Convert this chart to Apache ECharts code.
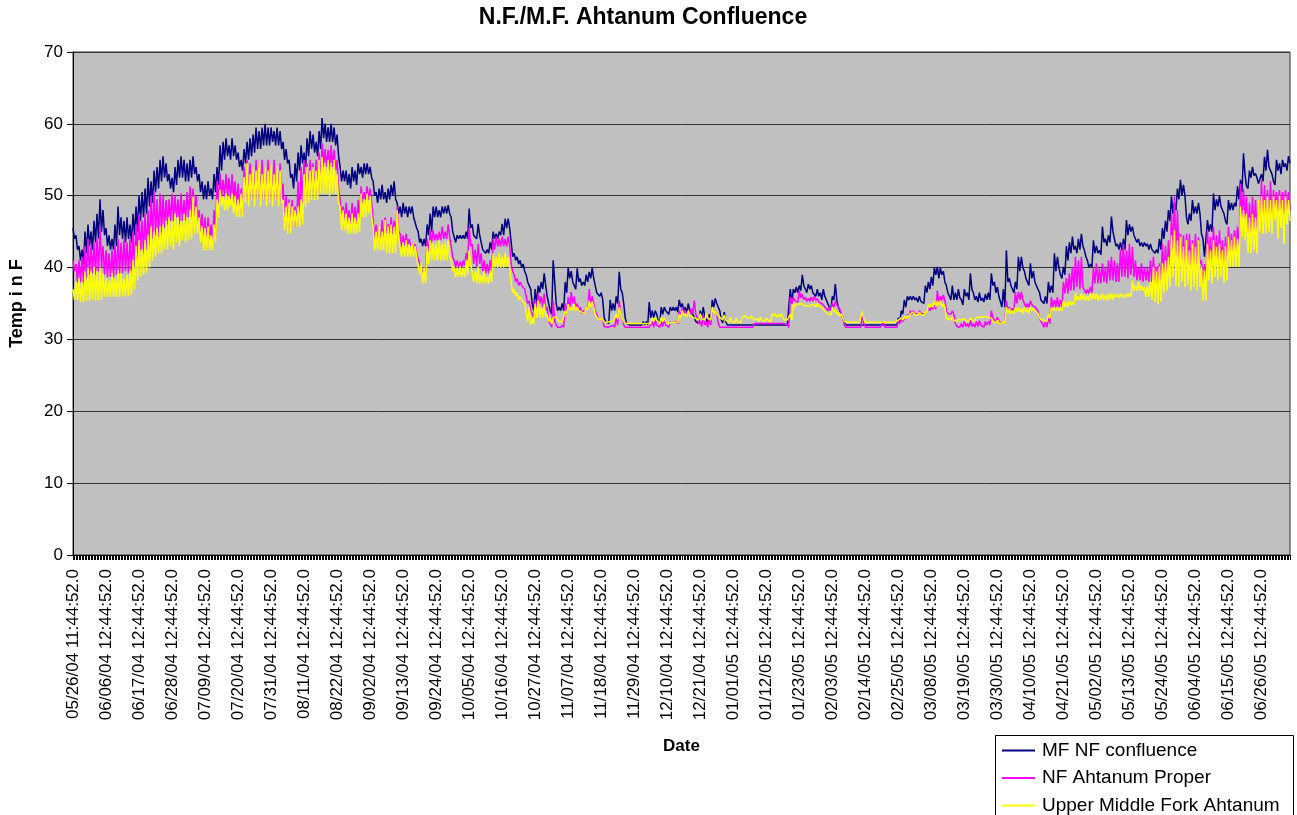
<!DOCTYPE html>
<html>
<head>
<meta charset="utf-8">
<title>N.F./M.F. Ahtanum Confluence</title>
<script src="https://cdn.jsdelivr.net/npm/echarts@6/dist/echarts.min.js"></script>
<style>
  html, body { margin: 0; padding: 0; background: #fff; }
  #main { width: 1297px; height: 815px; }
</style>
</head>
<body>
<div id="main"></div>
<script type="text/javascript">
// daily readings, one high and one low per day, starting 05/26/04
var startDate = [2004, 4, 26];
var seriesNames = ['MF NF confluence', 'NF Ahtanum Proper', 'Upper Middle Fork Ahtanum'];

// MF NF confluence
var mfHi = [
45.5,44.5,43,42.5,45,46,45,46.5,47.5,49.5,
48,45.5,44.5,44,46,48.5,47,46.5,47,46,
47.5,48.5,50,50.5,51,52.5,52,53.5,54,55,
55.5,54.5,53,52.5,54,55,55.5,55,54.5,55,
55.5,54,53,52,51.5,52,51,53,54,57,
57.5,58,57,58,57,56,55,56.5,57.5,58,
58.5,59.5,59,59.5,60,59.5,59.5,59,59.5,59,
57.5,56.5,55,53,54.5,56,57,56,58,59,
58.5,57.5,59,60.8,60,59.5,60,59.5,58.5,54,
53.5,53.5,53,54,53.5,54.5,54,54.5,54.5,54,
52,50.5,51,51.5,50.5,51,51.5,52,49,48.5,
49,48.5,48.5,48.5,47,45,44,44,46,47.5,
48.5,48.5,48,48.5,48.5,48.7,47,45,44.5,44.5,
44.5,45,48.2,46,44.7,46.1,43.5,42.5,42.5,43.5,
45,44.7,45,46.1,46.8,46.8,43.5,42,41.5,41,
40.5,39,38,35,37,37.5,38,39.2,36,34,
41,35,34.5,35,38,40,39.5,38,39.9,38.5,
38,39,39.4,40,37.5,36.5,36.5,33,32.7,35.5,
35,36,39.4,36.5,33,32.2,32.2,32,32,32.2,
32.5,32.5,35.2,34,34,32.5,34.5,34.5,33.8,34.5,
34.5,34.5,35.5,35,34.5,35,34,33.1,32.5,34,
34.5,33,33.5,35.5,35.7,35,32.7,33.8,32,32,
32,32,32,32,32,32,32,32,32,32,
32,32,32,32,32,32,32,32,32,37,
37,37.3,37.5,39,37.5,37.7,37.5,36.5,37,36.5,
37,35.5,34.5,36,37.7,34.5,33.5,32.5,32,32,
32,32,32,32,32,32,32,32,32,32,
32,32,32,32,32,33,34,35.5,36,36,
36,35.8,36,35.5,37.5,38,38.7,40,40.1,40,
39.5,37.5,36,37.5,36.5,37,35.5,37,36.5,39.2,
36.5,36,36.5,35.8,36.3,36.5,39.2,38,37.3,36,
37,42.4,38.5,37.5,38,41.5,41.5,39.5,38.5,40.6,
39.5,38,36.6,35.5,36,38,37.5,42,41.5,39,
40.1,43,43.5,44.3,43,44,44.7,42.4,41,40.5,
43.8,43,42.4,45.7,44,44.5,47.1,44,43.3,43.5,
44,46.6,46,45.7,44.3,44,43.5,43.5,43.3,43.3,
42.5,42.5,44,45.5,46.5,48,49.9,49,51,52.2,
51.5,47,47.5,49.4,48.5,49,44.7,41.5,46.6,46,
50.3,49.5,50,48.5,46.5,49.4,49,49,51.3,52.2,
55.9,51.3,53.5,54,53.1,51.7,53,55.4,56.4,54,
52,55,54.5,55,54.5,55.5
];
var mfLo = [
44,42.5,41,40.5,42,43,42.5,43.5,44,45,
44.5,43,42.5,42.5,43,44.5,44,43.5,44,43.5,
44.5,45,46.5,47,47.5,48.5,49,50.5,51,52,
52.5,52,51,50.5,51.5,52.5,52.5,52,52,52.5,
53,52,50.5,49.5,49.5,50,49.5,50.5,51.5,53.5,
55,55.5,55,55.5,55,54,53.5,54.5,55,55.5,
56,56.5,56.5,57,57,57,57.5,57,57,56.5,
55,54.5,52.5,51,52,53.5,54.5,54,55.5,56.5,
56,55.5,56.5,58,57.5,57.5,57.5,57,55.5,52,
52,51.5,51,52,51.5,53,52.5,53,53,52.5,
50,49,49.5,49.5,49,49.5,50,49.5,47.5,47,
47.5,47,47.5,47,45.5,43.5,43,43,44.5,45,
47,47,47,47.5,47.5,47.5,45,43.5,44,44,
44,44,45.5,44.5,44,44.5,42.5,42,42,42.5,
44,44,44.5,44.5,45.5,45.5,41.5,41,40.5,40,
39.5,38,37,34,35,36.5,37,37.5,35,33.5,
38,34,34,34,36.5,38.5,38,37,38,37.5,
37.5,38,38.5,38.5,36.5,36,35.5,32.5,32.2,34,
34,35,37,35,32.2,32,32,32,32,32,
32,32,33,33,33.5,32.2,33.5,34,33.5,34,
34,33.8,34.5,34,33.6,34,33.5,32.5,32.2,33,
33.2,32.3,32.5,34.5,35,34,32.3,32.5,32,32,
32,32,32,32,32,32,32,32,32,32,
32,32,32,32,32,32,32,32,32,35,
36.5,36.5,36.8,37.5,36.5,37,36.5,36,36,35.5,
36,35,34,35.5,35.5,34,33,32,32,32,
32,32,32,32,32,32,32,32,32,32,
32,32,32,32,32,32.5,33.5,34.5,35.5,35.5,
35.5,35.2,35.3,35,36.5,37,37.5,39,38.5,39,
38,36.5,35.5,35.5,35.5,35.8,34.8,36,35.5,37,
35.5,35.2,35.4,35.2,35.5,35.5,37.5,36.5,36,34.5,
34.5,38,37.5,36.5,37,39.5,40,38.5,37.5,38.5,
38,37,35.5,35,35,36.5,36.5,39.5,40,38.5,
39,41,42,42.5,42,42.5,43,41.5,40,40,
42,42,41.8,43.5,43,43.5,45,43,42.5,42.4,
42.5,44.5,45,44.5,43.5,43,42.9,43,42.5,42.5,
42,42,42.5,44,45,46.5,47.5,48,49.5,50,
50,46,46.5,47.5,47.5,47.5,44,41.5,45,45,
48,48.5,48.5,47.5,46,48,48,48.5,49.5,50.5,
53,51,52.5,52.8,52.5,51.5,52,53.5,54,53,
51.5,53.5,53,54,53.5,54.5
];

// NF Ahtanum Proper
var nfHi = [
41,40.5,41,41.5,43,44,43,43.5,44,45.7,
43,42.4,42,42.4,43,44,43.5,44,43.5,44,
45,46,47.5,46.5,47.5,48,50,50.8,49.5,50.3,
50,49.4,49.5,50.3,50,49.5,50.3,49.4,50.5,51.3,
51,50,48,47.5,47,47,46,48,52,53.1,
52.2,53,52.5,53,52,51.7,51,54,55,54.5,
54,55,54.5,55,54,55,54.5,55,54,54.5,
51.7,50,49.5,49.4,48.5,52,54,55,54.5,55,
54.5,55,56,57.3,56.5,56.4,57,56.4,55,49.4,
48.5,49,48,49,48.5,49.4,51.3,50.5,51.3,51,
46.6,46,45.5,46.6,47,46,47,46.5,48.5,44.7,
44.5,44.7,44,43.3,43.3,42,40,40,44,45.2,
45.2,44.7,45,45.7,45,46,43,41,41,40.8,
41,42,45.7,43.3,42.5,43.3,42,41,40.5,41,
44,44.3,44,44.3,44,44.3,40.5,39,38.5,38,
37.5,36,35.4,34,35.5,36.4,36,36.4,34.5,32.2,
35.4,32,31.7,32,35,35.9,36.6,36,35,34.5,
34,34.5,37,36,34,33,33,31.8,31.7,31.8,
32,33,35.4,33,31.7,31.7,31.7,31.7,31.7,31.7,
31.7,31.7,31.7,32.5,32.7,32,32.5,32.7,32.2,32.4,
32.4,32.5,34,34.5,34,33.8,34.3,35.4,33,32.5,
33.5,32.5,33,34.5,34,32.2,31.8,31.8,31.7,31.7,
31.7,31.7,31.7,31.7,31.7,31.7,31.7,32.2,32.2,32.2,
32.2,32.2,32.2,32.2,32.2,32.2,32.2,32.2,32,35.9,
35.9,35.5,36.8,36.3,35.9,35.7,35.9,36,35.7,35.4,
35,34.5,34.5,35,35.4,34.8,34,32,31.7,31.7,
31.7,31.7,31.7,33.6,31.7,31.7,31.7,31.7,31.7,31.7,
32.4,31.7,31.7,31.7,31.7,32.5,32.9,33.1,33.5,34,
34,33.8,34,33.8,34,34.5,34.5,34.8,36.8,36,
36.2,34,33.8,34,32.2,32,32.2,32.5,32.2,32.7,
32.2,32.5,32.6,32.2,32.5,32.5,34,33,33.1,32.7,
32.5,35.4,34.5,34.3,36.6,36.6,36.6,35.4,35,35.4,
35,34.5,33.1,32.2,32.5,33.1,35.9,35.5,35.9,35.5,
38,38.5,39.2,40,41.5,41,41.5,37.3,37,37.3,
40,40.6,39.9,40.6,40.1,41,41.5,41,40.6,42.5,
43.3,42.4,43.3,42.9,41,40.1,40.6,40.1,40,41,
41.5,40.1,40.6,43.3,43,43.8,47.5,49.9,48,44.7,
44.5,44.7,44.7,43.8,44.7,44.2,41,40.5,45.2,44.3,
45.7,44.5,45.2,43.8,44.3,45.7,44.7,45.2,45.7,51.7,
51,49.9,49,49.9,49.4,49,52.2,51.5,50.8,52,
50.8,50.5,50.8,50.5,50.8,50.5
];
var nfLo = [
39.5,38,38,37.8,38.5,39,39.2,39,39.5,40,
39,38.7,38.7,38.7,39,39.2,39.2,39.5,39.2,39.5,
40,41,42.4,42,42.4,43,44,44.5,44.2,44.7,
45.5,46,46.5,46.5,47,46,46.5,46.5,47,47,
47,46.5,45,44,43.5,43.3,43.3,44,49,49.9,
49.9,50,49.5,49,48.5,47.5,47.5,49.4,49.4,49.4,
49.5,49.4,49.5,49.4,50,49,49.4,49.5,49.4,49,
46,45.2,45.5,45.7,45.7,46.5,49,49.4,50,50.3,
50,50.3,51,54,54,53.5,54,53.5,51,47.5,
46.6,46,45.7,46,46,46.6,49,49.4,49.4,49,
44,43.3,43.3,43.5,44.7,44.7,44.7,44.7,45,42.9,
43,42.9,43,42,42,40.5,39.2,39.2,41.5,43.5,
43.8,43.8,43.8,44,44,44.3,41.5,40.1,40.1,40.1,
40.3,41,43,40.5,40.1,40.5,39.5,39.2,39.2,39.5,
42.5,42.9,42.9,43,42.9,43,39.5,38,37.5,37.5,
37,35,34,33.1,34,35,34.5,34,32.5,31.7,
32.5,31.7,31.7,31.7,33.5,34,35,34.5,34,33.6,
33.6,34,35,35,33.5,32.7,32.7,31.7,31.7,31.7,
31.7,32,33.5,32,31.7,31.7,31.7,31.7,31.7,31.7,
31.7,31.7,31.7,31.7,32,31.7,31.8,32,31.7,32.2,
32.2,32.2,33,33.6,33.5,33.5,33.6,33.5,32.2,31.8,
32,31.7,32,33.6,33.6,31.7,31.7,31.7,31.7,31.7,
31.7,31.7,31.7,31.7,31.7,31.7,31.7,32.2,32.2,32.2,
32.2,32.2,32.2,32.2,32.2,32.2,32.2,32.2,31.7,35,
35.4,35.2,35.8,35.5,35.3,35.3,35.3,35.4,35.2,35,
34.5,34,34,34.5,34.8,34.2,33,31.7,31.7,31.7,
31.7,31.7,31.7,32.2,31.7,31.7,31.7,31.7,31.7,31.7,
31.7,31.7,31.7,31.7,31.7,32.2,32.5,32.7,33.1,33.5,
33.6,33.5,33.6,33.5,33.6,34,34.2,34.2,35,35.4,
35.4,33.6,33.5,33.5,31.8,31.7,31.7,31.8,31.7,31.8,
31.7,31.8,32,31.7,32,32,33,32.5,32.5,32.2,
32.2,34,34,34,35,35.5,35.5,34.5,34.5,34.8,
34.5,34,32.5,31.7,31.7,32.2,34.5,34.5,34.5,34.5,
36.4,36.4,36.8,36.8,37.3,37,37.3,36.4,36.4,36.5,
37.8,37.8,37.8,38,37.8,38.2,38.2,38,38,38.7,
38.7,38.5,39,38.7,38.2,38.2,38,38.2,38,38,
37.8,37.8,38.2,39.2,39.2,39.2,42.4,41.5,41,40.1,
40.1,40.1,40.1,40.1,40.1,40.5,37.8,37.8,41,40.5,
41.5,41,41,40.1,41,42,42,42,42.4,47,
47,44.7,44.7,45,44.7,44.7,45.7,45.7,46,45.7,
48,48,48,47.5,48,48
];

// Upper Middle Fork Ahtanum
var umHi = [
37,38,38.5,38,39.5,40,39.5,40.1,39.5,40,
39.2,38.5,38.2,39.2,38.5,39.6,39.2,38.5,39,39.6,
41,43,43.8,42.5,43.8,44.5,45.7,45,45.5,45.7,
46,46.5,47,46.5,47.5,47,46.5,47.5,47,48,
49.9,48.5,47,45.7,45.5,45.7,44.5,46,49.5,50.8,
49.9,50.3,50,50.3,50,49.5,50.3,52.6,54.5,53,
54,53.5,54.5,53,54,53.5,54.5,53,54,53.5,
49.4,48.5,49,48.5,48,48.5,49.5,53,54,53.5,
54,53.5,55,55.4,54.5,55,54.5,55,53,48.5,
48,47.5,47,47.5,47,47.5,50.3,49.5,50.3,50,
45.7,45,45.7,45,46.6,45.7,46,45.7,48,43.8,
43.5,43.8,43.3,43.3,43,41.5,40.6,40,43,43.8,
43.5,43.3,43.8,43.3,43.5,43.8,41,40.1,40,40.1,
40,41,42.4,40.5,39.5,40.1,39,39.5,38.7,39.5,
42,41.5,42,41.5,42,41.5,37.8,37,36.5,36,
35.5,34.9,34.5,33,35,35.4,34.5,35,33.5,33.1,
33.1,33.1,32.5,32.5,34,34.9,34.5,34.9,34.5,34.2,
34,34.5,35.4,35.2,33.5,33.1,33,32.4,32.4,32.5,
32.5,33.5,34.5,33,32.2,32.2,32.2,32.2,32.2,32.2,
32.2,32.2,32.2,33,33.1,32.5,33.1,33,32.7,32.4,
32.4,32.5,33.5,34,33.6,34,33.5,33.3,33.1,33.6,
32.9,33.6,33.1,34.5,34,33.6,33.1,33.4,32.9,33.1,
32.5,32.9,32.5,33.1,33.3,33.1,33.3,32.7,32.9,33.1,
32.7,33,32.7,33.6,33.6,33.4,33.6,32.7,32.7,33.5,
34.9,34.9,34.9,35,34.9,34.9,34.9,34.8,35,34.8,
34.5,34,33.8,34.5,34.2,33.8,33.6,32.5,32.4,32.4,
32.4,32.4,32.4,33.9,32.4,32.4,32.4,32.4,32.4,32.4,
32.4,32.4,32.4,32.4,32.4,32.7,33,33.2,33.4,33.6,
33.8,33.6,33.8,33.6,34,34.9,35,35.4,35.4,35.4,
35,33.1,33,33.1,32.7,32.8,32.7,32.9,32.7,33,
32.8,33.1,33.1,33.1,33.2,33.1,32.9,32.7,32.7,32.5,
32.5,34.5,34.3,34,34.5,34.5,34.3,34.5,34.3,34.5,
34.3,34,33.1,32.9,32.7,33.5,34.5,34.3,34.5,34.3,
35.4,35.2,35.4,35.2,36.4,36,36.4,36.2,36,36.4,
36.4,36.4,36.2,36.4,36.2,36.4,36.4,36.4,36.2,36.4,
36.2,36.4,36.4,38.2,37.5,38,37.5,37.3,37.5,38,
40.1,39.5,40.1,40.6,41,41.5,44.5,45.2,43.8,44.3,
42.9,43.8,42.4,43.3,42.9,43.8,40.1,39.6,43.3,42.4,
43.8,42.9,43.3,42.4,43,44.3,43.8,44.3,44,48.5,
48,47.5,47,47.5,47,49.4,49.9,49.4,49.9,49.4,
49.9,49.4,50,49.4,49.9,49.4
];
var umLo = [
35.5,35.5,35.2,35.2,35.4,35.4,35.5,35.4,35.4,35.5,
35.9,35.9,35.9,35.9,35.9,35.9,36,36,36,36.2,
37,38.2,38.7,39,39.2,40,41,41.5,42,42,
42.5,42.5,43,42.5,43.5,43,43.8,43.5,43.8,44,
44.7,44.7,43.5,42.4,42.4,42.4,42.4,43.5,47,48.5,
48,48,48.5,47.5,47,47,47,49,48.5,49.4,
48.5,49.4,48.5,49.4,48.5,49,48.5,49.4,48.5,49,
45.2,44.7,44.7,45.7,45.7,45.7,46,48.5,49,49.4,
49.4,49.4,50.3,50.3,50.3,50,50.3,50.3,49,45.2,
45.2,44.7,44.7,44.7,44.7,45,47,47,47.5,47,
42.4,42.4,42.4,42.4,42,42,42,42,44,41.5,
41.5,41.5,41.5,41.5,41.5,39,37.8,37.8,40.5,41,
41,41,41,41,41,41.5,39.5,38.7,38.7,38.7,
38.7,39,40.5,38,37.8,37.8,37.8,37.8,37.8,38,
40,40,40,40,40.1,40,36.5,36,35.5,35.4,
35,32.5,32.1,32.1,33,33.1,33,33.1,32.5,32.1,
33,32.8,32.4,32.4,33.5,34,34,34,34,33.8,
33.6,34,34.5,34.5,33.1,32.7,32.7,32.4,32.4,32.4,
32.4,32.8,33.5,32.4,32.2,32.2,32.2,32.2,32.2,32.2,
32.2,32.2,32.2,32.5,32.7,32.2,32.5,32.5,32.2,32.4,
32.4,32.4,33,33.3,33.1,33.3,33.1,32.9,32.7,32.9,
32.7,33,32.7,33.6,33.5,33.1,32.7,32.7,32.4,32.5,
32.4,32.4,32.4,32.9,33,32.9,33,32.5,32.5,32.7,
32.5,32.7,32.5,33.3,33.1,33.1,33.1,32.5,32.5,32.7,
34.5,34.7,34.7,34.7,34.7,34.6,34.7,34.5,34.6,34.5,
34,33.6,33.4,33.8,33.5,33.2,33,32.4,32.4,32.4,
32.4,32.4,32.4,32.8,32.4,32.4,32.4,32.4,32.4,32.4,
32.4,32.4,32.4,32.4,32.4,32.5,32.7,32.8,33,33.4,
33.4,33.4,33.4,33.4,33.6,34.5,34.5,34.5,34.8,34.5,
34.5,32.7,32.7,32.7,32.5,32.6,32.5,32.6,32.5,32.7,
32.6,32.9,32.9,32.9,33,32.9,32.5,32.3,32.3,32.2,
32.2,33.6,33.6,33.6,33.8,33.8,33.6,33.8,33.6,34,
34,33.6,32.7,32.7,32.5,32.9,34,34,34,34,
34.5,34.5,34.8,34.8,35.4,35.4,35.5,35.4,35.4,35.5,
35.6,35.4,35.5,35.5,35.4,35.6,35.5,35.9,35.8,35.9,
35.8,35.9,35.9,36.8,36.8,36.8,36.8,35.9,35.9,35.5,
35.2,34.9,35.2,36.4,36.8,37.3,38.7,37.5,37.3,38,
37.3,37.5,36.8,37.3,36.8,37.3,35.4,35.4,38.2,37.8,
38.7,38.2,38.7,37.8,38.2,40.1,40.1,40.1,40.1,44.3,
43.8,42,42,42.4,42,44.7,44.7,44.7,45,44.7,
46.6,44,45.5,43.3,46,46.5
];

function pad(n) { return (n < 10 ? '0' : '') + n; }
function fmtDate(t) {
    var d = new Date(t);
    return pad(d.getUTCMonth() + 1) + '/' + pad(d.getUTCDate()) + '/' + pad(d.getUTCFullYear() % 100);
}

// two readings a day: midday and just after midnight
var dayMs = 86400000;
var t0 = Date.UTC(startDate[0], startDate[1], startDate[2]);
var categories = [];
for (var i = 0; i < mfHi.length; i++) {
    categories.push(fmtDate(t0 + i * dayMs) + (i === 0 ? ' 11:44:52.0' : ' 12:44:52.0'));
    categories.push(fmtDate(t0 + (i + 1) * dayMs) + ' 00:44:52.0');
}
function pairs(hi, lo) {
    var out = [];
    for (var i = 0; i < hi.length; i++) { out.push(hi[i]); out.push(lo[i]); }
    return out;
}

var font = '"Liberation Sans", Arial, sans-serif';
var myChart = echarts.init(document.getElementById('main'));
var option = {
    animation: false,
    backgroundColor: '#ffffff',
    title: {
        text: 'N.F./M.F. Ahtanum Confluence',
        left: 638,
        top: 1,
        textAlign: 'center',
        textStyle: { fontFamily: font, fontSize: 23, fontWeight: 'bold', color: '#000' }
    },
    // legend frame, runs off the bottom edge like the original
    graphic: [{
        type: 'rect',
        left: 995, top: 735,
        shape: { width: 298, height: 90 },
        style: { fill: '#fff', stroke: '#000', lineWidth: 1 },
        z: 3
    }],
    grid: {
        left: 73, right: 7, top: 52, bottom: 260,
        outerBoundsMode: 'none',
        show: true,
        backgroundColor: '#C0C0C0',
        borderColor: '#333',
        borderWidth: 1
    },
    legend: {
        orient: 'vertical',
        left: 1002,
        top: 741,
        height: 90,
        data: seriesNames,
        icon: 'rect',
        itemWidth: 33,
        itemHeight: 2,
        itemGap: 8.5,
        padding: 0,
        z: 10,
        textStyle: { fontFamily: font, fontSize: 19, color: '#000', lineHeight: 18, padding: [0, 0, 0, 2] }
    },
    xAxis: {
        type: 'category',
        data: categories,
        boundaryGap: false,
        name: 'Date',
        nameLocation: 'middle',
        nameGap: 183,
        nameTextStyle: { fontFamily: font, fontSize: 17, fontWeight: 'bold', color: '#000' },
        axisLine: { lineStyle: { color: '#000', width: 1 } },
        axisTick: { show: true, interval: 0, length: 5, lineStyle: { color: '#000' } },
        axisLabel: {
            interval: 21,
            rotate: 90,
            margin: 14,
            fontFamily: font,
            fontSize: 17,
            color: '#000'
        },
        splitLine: { show: false }
    },
    yAxis: {
        type: 'value',
        min: 0,
        max: 70,
        interval: 10,
        name: 'Temp i n F',
        nameLocation: 'middle',
        nameGap: 47,
        nameTextStyle: { fontFamily: font, fontSize: 18, fontWeight: 'bold', color: '#000' },
        axisLine: { show: true, lineStyle: { color: '#000', width: 1 } },
        axisTick: { show: true, length: 6, lineStyle: { color: '#000' } },
        axisLabel: { margin: 10, fontFamily: font, fontSize: 17, color: '#000' },
        splitLine: { show: true, lineStyle: { color: '#333', width: 1 } }
    },
    series: [
        {
            name: seriesNames[0], type: 'line', data: pairs(mfHi, mfLo),
            showSymbol: false, color: '#000080',
            lineStyle: { color: '#000080', width: 1.5 }
        },
        {
            name: seriesNames[1], type: 'line', data: pairs(nfHi, nfLo),
            showSymbol: false, color: '#FF00FF',
            lineStyle: { color: '#FF00FF', width: 1.5 }
        },
        {
            name: seriesNames[2], type: 'line', data: pairs(umHi, umLo),
            showSymbol: false, color: '#FFFF00',
            lineStyle: { color: '#FFFF00', width: 1.5 }
        }
    ]
};
myChart.setOption(option);
</script>
</body>
</html>
